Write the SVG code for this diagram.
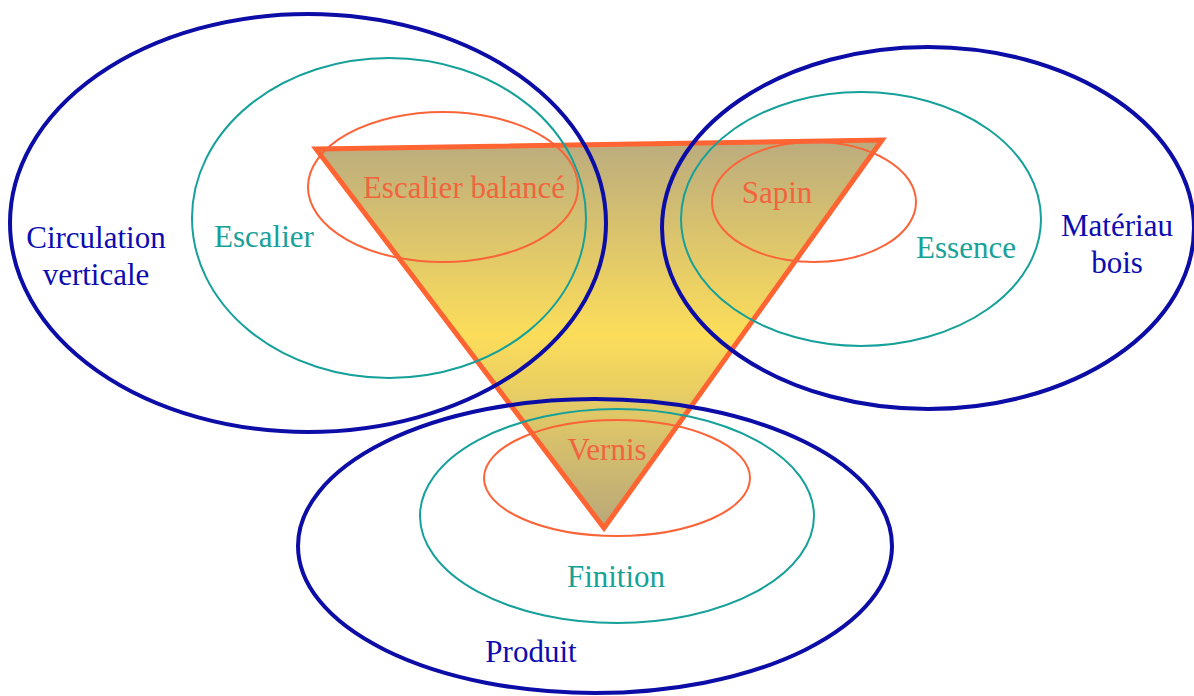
<svg xmlns="http://www.w3.org/2000/svg" width="1194" height="696" viewBox="0 0 1194 696">
<defs>
<linearGradient id="tri" gradientUnits="userSpaceOnUse" x1="0" y1="142" x2="0" y2="528">
<stop offset="0" stop-color="#bbac7e"/>
<stop offset="0.5" stop-color="#fcdd5a"/>
<stop offset="1" stop-color="#b8a87a"/>
</linearGradient>
</defs>
<style>
.blue{fill:none;stroke:#0c0ca6;stroke-width:4}
.teal{fill:none;stroke:#16a09a;stroke-width:2}
.org{fill:none;stroke:#fa6438;stroke-width:2}
text{font-family:"Liberation Serif","Times New Roman",serif;font-size:31px;text-anchor:middle}
.tb{fill:#0c0cb0}
.tt{fill:#17a199}
.to{fill:#f2643e}
</style>
<rect width="1194" height="696" fill="#ffffff"/>
<g id="triangle">
<polygon points="316,149 882,140 604,528" fill="url(#tri)" stroke="#ff6432" stroke-width="5" stroke-linejoin="miter"/>
</g>
<g id="circulation-verticale">
<ellipse class="blue" cx="308" cy="223" rx="298" ry="209"/>
<text class="tb" x="96" y="248">Circulation</text>
<text class="tb" x="96" y="285">verticale</text>
</g>
<g id="escalier">
<ellipse class="teal" cx="389" cy="218" rx="197" ry="160"/>
<text class="tt" x="264" y="247">Escalier</text>
</g>
<g id="escalier-balance">
<ellipse class="org" cx="443" cy="187" rx="135" ry="75"/>
<text class="to" x="464" y="198">Escalier balancé</text>
</g>
<g id="materiau-bois">
<ellipse class="blue" cx="928" cy="228" rx="266" ry="181"/>
<text class="tb" x="1117" y="236">Matériau</text>
<text class="tb" x="1117" y="273">bois</text>
</g>
<g id="essence">
<ellipse class="teal" cx="861" cy="219" rx="180" ry="127"/>
<text class="tt" x="966" y="258">Essence</text>
</g>
<g id="sapin">
<ellipse class="org" cx="814" cy="202" rx="102" ry="60"/>
<text class="to" x="777" y="203">Sapin</text>
</g>
<g id="produit">
<ellipse class="blue" cx="595" cy="546" rx="297" ry="147"/>
<text class="tb" x="531" y="662">Produit</text>
</g>
<g id="finition">
<ellipse class="teal" cx="617" cy="516" rx="197" ry="107"/>
<text class="tt" x="616" y="587">Finition</text>
</g>
<g id="vernis">
<ellipse class="org" cx="617" cy="478" rx="133" ry="58"/>
<text class="to" x="607" y="460">Vernis</text>
</g>
<g id="connectors"></g>
</svg>
